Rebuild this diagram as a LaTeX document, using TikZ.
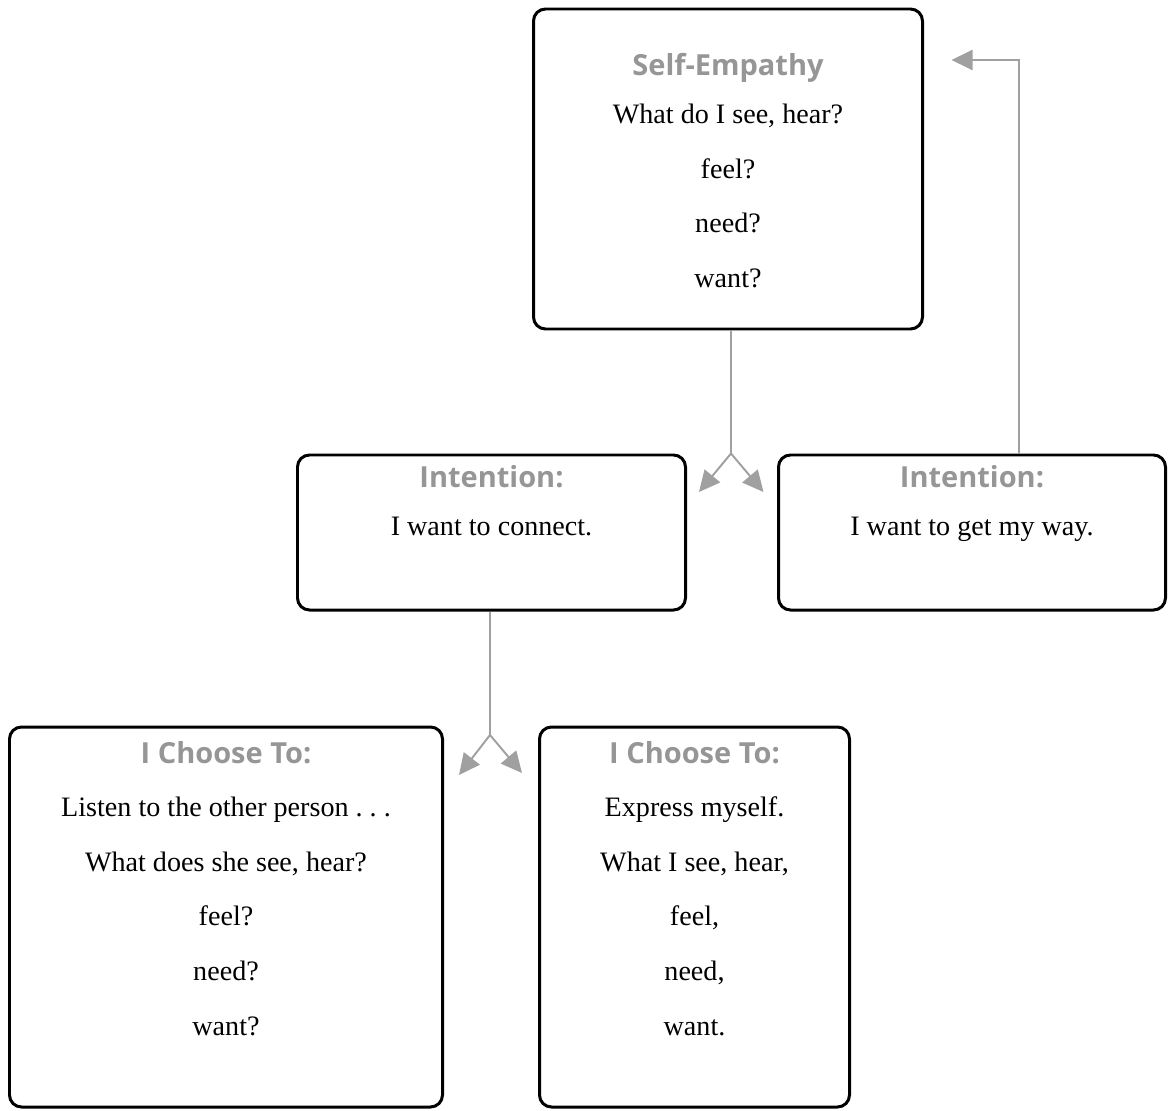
\documentclass[tikz,border=0pt]{standalone}
\usepackage{fontspec}
\setmainfont{Liberation Serif}
\newfontfamily\headfamily{Open Sans}
\usepackage{xcolor}
\usetikzlibrary{arrows.meta, positioning}
\definecolor{linegray}{RGB}{160,160,160}
\definecolor{headgray}{RGB}{150,150,150}
\newcommand{\headtext}[1]{{\headfamily\bfseries\fontsize{16.5}{20}\selectfont\color{headgray}#1}}

\begin{document}
\begin{tikzpicture}[thick,
    box/.style={rectangle, draw, line width=1.7pt, rounded corners=0.24cm},
    boxtext/.style={anchor=north, inner sep=0pt, align=center, font=\fontsize{16}{31.2}\selectfont},
    link/.style={draw=linegray, line width=1.1pt},
    tip/.style={-{Triangle[length=0.42cm, width=0.40cm]}, draw=linegray, line width=1.1pt}]
    \useasboundingbox (0,0) rectangle (23.36,-22.2);

    % Nodes
    \node (SelfEmp) [box, minimum width=7.78cm, minimum height=6.40cm] at (14.56,-3.38) {};
    \node (IntentL) [box, minimum width=7.76cm, minimum height=3.10cm] at (9.83,-10.65) {};
    \node (IntentR) [box, minimum width=7.74cm, minimum height=3.10cm] at (19.44,-10.65) {};
    \node (ChooseL) [box, minimum width=8.66cm, minimum height=7.60cm] at (4.52,-18.34) {};
    \node (ChooseR) [box, minimum width=6.20cm, minimum height=7.60cm] at (13.89,-18.34) {};

    \node (SelfEmpText) [boxtext, below=0.90cm of SelfEmp.north]
        {\headtext{Self-Empathy}\\[-4pt] What do I see, hear?\\ feel?\\ need?\\ want?};
    \node (IntentLText) [boxtext, below=0.22cm of IntentL.north]
        {\headtext{Intention:}\\[-4pt] I want to connect.};
    \node (IntentRText) [boxtext, below=0.22cm of IntentR.north]
        {\headtext{Intention:}\\[-4pt] I want to get my way.};
    \node (ChooseLText) [boxtext, below=0.30cm of ChooseL.north]
        {\headtext{I Choose To:}\\[-1pt] Listen to the other person .\ .\ .\\ What does she see, hear?\\ feel?\\ need?\\ want?};
    \node (ChooseRText) [boxtext, below=0.30cm of ChooseR.north]
        {\headtext{I Choose To:}\\[-1pt] Express myself.\\ What I see, hear,\\ feel,\\ need,\\ want.};

    \coordinate (Split1) at (14.62,-9.07);
    \coordinate (Split1L) at (13.98,-9.84);
    \coordinate (Split1R) at (15.27,-9.84);
    \coordinate (Split2) at (9.80,-14.70);
    \coordinate (Split2L) at (9.18,-15.50);
    \coordinate (Split2R) at (10.44,-15.46);
    \coordinate (BackCorner) at (20.38,-1.20);
    \coordinate (BackTip) at (19.03,-1.20);

    % Edges
    \draw[link] (SelfEmp.south -| Split1) -- (Split1);
    \draw[tip] (Split1) -- (Split1L);
    \draw[tip] (Split1) -- (Split1R);
    \draw[link] (IntentL.south -| Split2) -- (Split2);
    \draw[tip] (Split2) -- (Split2L);
    \draw[tip] (Split2) -- (Split2R);
    \draw[tip] (IntentR.north -| BackCorner) -- (BackCorner) -- (BackTip);
\end{tikzpicture}
\end{document}
